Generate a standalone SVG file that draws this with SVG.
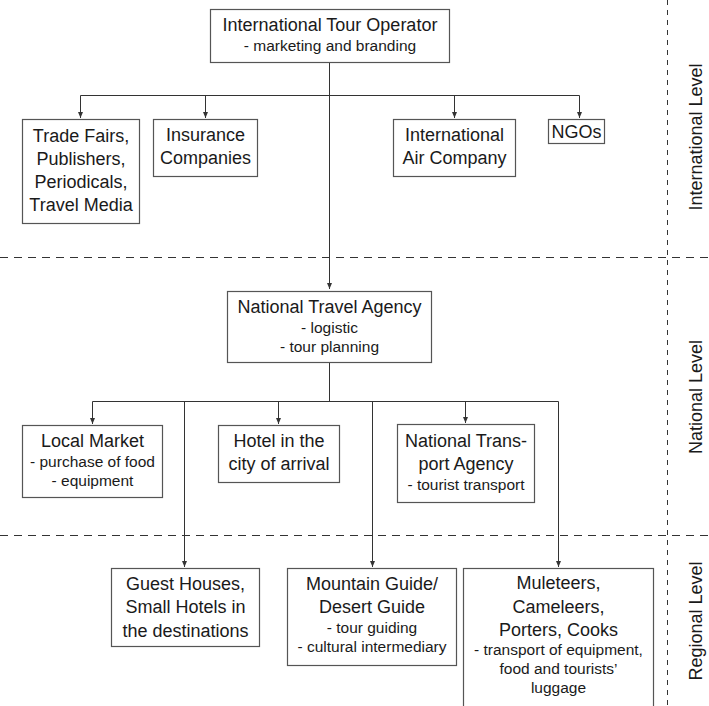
<svg xmlns="http://www.w3.org/2000/svg" width="709" height="706" viewBox="0 0 709 706">
<defs>
<style>
.box{fill:#fff;stroke:#555;stroke-width:1.2}
.t{font-family:"Liberation Sans",Arial,sans-serif;font-size:18px;fill:#1a1a1a;text-anchor:middle}
.s{font-family:"Liberation Sans",Arial,sans-serif;font-size:15.5px;fill:#1a1a1a;text-anchor:middle}
.lvl{font-family:"Liberation Sans",Arial,sans-serif;font-size:18px;fill:#1a1a1a;text-anchor:middle}
.c{fill:none;stroke:#333;stroke-width:1}
.dash{fill:none;stroke:#333;stroke-width:1}
</style>
<marker id="arr" markerUnits="userSpaceOnUse" markerWidth="6" markerHeight="6" refX="6" refY="3" orient="auto">
<path d="M0,0.5 L6,3 L0,5.5 z" fill="#333"/>
</marker>
</defs>
<rect width="709" height="706" fill="#fff"/>

<g id="levels">
<line class="dash" x1="0" y1="257.5" x2="709" y2="257.5" stroke-dasharray="8 6"/>
<line class="dash" x1="0" y1="535.5" x2="709" y2="535.5" stroke-dasharray="8 6"/>
<line class="dash" x1="667.5" y1="0" x2="667.5" y2="706" stroke-dasharray="5 5"/>
<text class="lvl" transform="translate(702,137) rotate(-90)">International Level</text>
<text class="lvl" transform="translate(702,397) rotate(-90)">National Level</text>
<text class="lvl" transform="translate(702,621) rotate(-90)">Regional Level</text>
</g>

<g id="connectors">
<path class="c" d="M329.5,62 V289" marker-end="url(#arr)"/>
<path class="c" d="M80.5,95.5 H579.5"/>
<path class="c" d="M80.5,95.5 V118" marker-end="url(#arr)"/>
<path class="c" d="M205.5,95.5 V118" marker-end="url(#arr)"/>
<path class="c" d="M454.5,95.5 V118" marker-end="url(#arr)"/>
<path class="c" d="M579.5,95.5 V118" marker-end="url(#arr)"/>
<path class="c" d="M329.5,363 V401.5"/>
<path class="c" d="M92.5,401.5 H558.5"/>
<path class="c" d="M92.5,401.5 V424" marker-end="url(#arr)"/>
<path class="c" d="M278.5,401.5 V424" marker-end="url(#arr)"/>
<path class="c" d="M465.5,401.5 V423" marker-end="url(#arr)"/>
<path class="c" d="M184.5,401.5 V567" marker-end="url(#arr)"/>
<path class="c" d="M372.5,401.5 V567" marker-end="url(#arr)"/>
<path class="c" d="M558.5,401.5 V567" marker-end="url(#arr)"/>
</g>

<g id="n-tour-operator">
<rect class="box" x="210.5" y="9.5" width="239" height="53"/>
<text class="t" x="330" y="31">International Tour Operator</text>
<text class="s" x="330" y="51">- marketing and branding</text>
</g>

<g id="n-trade-fairs">
<rect class="box" x="22.5" y="119.5" width="117" height="104"/>
<text class="t" x="81" y="142">Trade Fairs,</text>
<text class="t" x="81" y="165">Publishers,</text>
<text class="t" x="81" y="188">Periodicals,</text>
<text class="t" x="81" y="211">Travel Media</text>
</g>

<g id="n-insurance">
<rect class="box" x="153.5" y="119.5" width="104" height="57"/>
<text class="t" x="205.5" y="141">Insurance</text>
<text class="t" x="205.5" y="164">Companies</text>
</g>

<g id="n-air">
<rect class="box" x="393.5" y="119.5" width="122" height="57"/>
<text class="t" x="454.5" y="141">International</text>
<text class="t" x="454.5" y="164">Air Company</text>
</g>

<g id="n-ngos">
<rect class="box" x="548.5" y="119.5" width="56" height="24"/>
<text class="t" x="576.5" y="138">NGOs</text>
</g>

<g id="n-national-agency">
<rect class="box" x="227.5" y="291.5" width="204" height="71"/>
<text class="t" x="329.5" y="313">National Travel Agency</text>
<text class="s" x="329.5" y="333">- logistic</text>
<text class="s" x="329.5" y="352">- tour planning</text>
</g>

<g id="n-local-market">
<rect class="box" x="22.5" y="425.5" width="140" height="72"/>
<text class="t" x="92.5" y="447">Local Market</text>
<text class="s" x="92.5" y="467">- purchase of food</text>
<text class="s" x="92.5" y="486">- equipment</text>
</g>

<g id="n-hotel">
<rect class="box" x="218.5" y="425.5" width="121" height="57"/>
<text class="t" x="279" y="447">Hotel in the</text>
<text class="t" x="279" y="470">city of arrival</text>
</g>

<g id="n-transport">
<rect class="box" x="397.5" y="424.5" width="137" height="78"/>
<text class="t" x="466" y="447">National Trans-</text>
<text class="t" x="466" y="470">port Agency</text>
<text class="s" x="466" y="490">- tourist transport</text>
</g>

<g id="n-guest-houses">
<rect class="box" x="111.5" y="568.5" width="148" height="78"/>
<text class="t" x="185.5" y="590">Guest Houses,</text>
<text class="t" x="185.5" y="613">Small Hotels in</text>
<text class="t" x="185.5" y="637">the destinations</text>
</g>

<g id="n-guide">
<rect class="box" x="287.5" y="568.5" width="169" height="97"/>
<text class="t" x="372" y="590">Mountain Guide/</text>
<text class="t" x="372" y="613">Desert Guide</text>
<text class="s" x="372" y="633">- tour guiding</text>
<text class="s" x="372" y="652">- cultural intermediary</text>
</g>

<g id="n-muleteers">
<rect class="box" x="463.5" y="568.5" width="190" height="150"/>
<text class="t" x="558.5" y="589">Muleteers,</text>
<text class="t" x="558.5" y="613">Cameleers,</text>
<text class="t" x="558.5" y="636">Porters, Cooks</text>
<text class="s" x="558.5" y="655">- transport of equipment,</text>
<text class="s" x="558.5" y="674">food and tourists’</text>
<text class="s" x="558.5" y="693">luggage</text>
</g>
</svg>
